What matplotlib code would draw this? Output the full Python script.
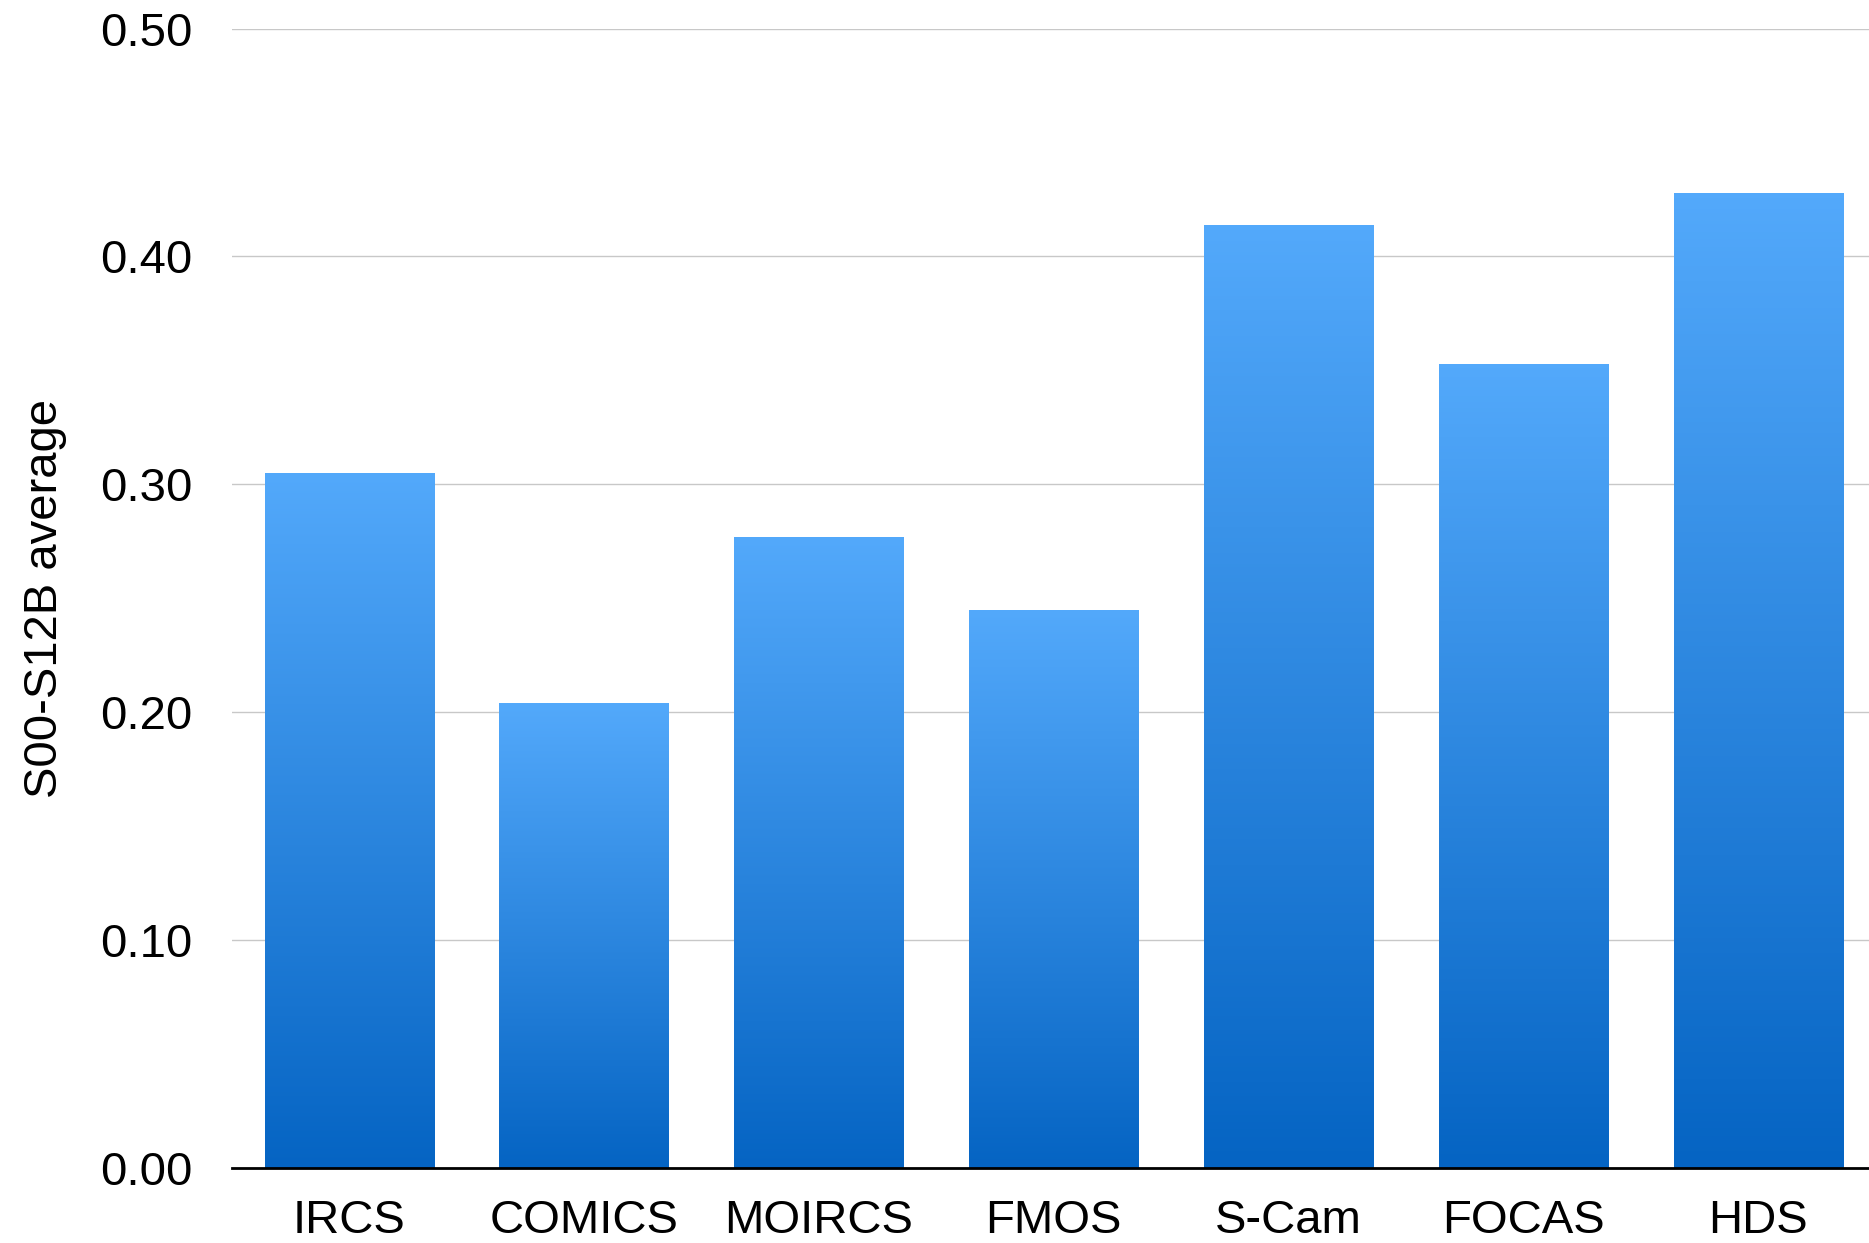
import matplotlib
matplotlib.use("Agg")
import matplotlib.pyplot as plt
import numpy as np
from matplotlib.colors import LinearSegmentedColormap

categories = ["IRCS", "COMICS", "MOIRCS", "FMOS", "S-Cam", "FOCAS", "HDS"]
values = [0.305, 0.204, 0.277, 0.245, 0.414, 0.353, 0.428]
yticks = [0.0, 0.1, 0.2, 0.3, 0.4, 0.5]
ytick_labels = ["0.00", "0.10", "0.20", "0.30", "0.40", "0.50"]
ylabel = "S00-S12B average"

plt.rcParams['font.family'] = ['Liberation Sans', 'DejaVu Sans']

fig = plt.figure(figsize=(18.69, 12.43), dpi=100)
ax = fig.add_axes([0.1240, 0.0603, 0.8795, 0.977 - 0.0603])

x = np.arange(len(categories))
bars = ax.bar(x, values, width=0.72, color='none', edgecolor='none', zorder=2)

cmap = LinearSegmentedColormap.from_list("g", ["#0564C3", "#53A9FB"])
grad = np.linspace(0, 1, 256).reshape(-1, 1)
for b in bars:
    x0 = b.get_x()
    w = b.get_width()
    h = b.get_height()
    im = ax.imshow(grad, cmap=cmap, origin='lower', aspect='auto',
                   extent=[x0, x0 + w, 0, h], zorder=2, interpolation='bilinear')
    im.set_clip_path(b)

ax.set_xlim(-0.5, 6.5)
ax.set_ylim(0, 0.5)
ax.set_yticks(yticks)
ax.set_yticklabels(ytick_labels)
ax.set_xticks(x)
ax.set_xticklabels(categories)

ax.yaxis.grid(True, color='#C8C8C8', linewidth=1.0, zorder=0)
ax.set_axisbelow(True)
for s in ['left', 'right', 'top']:
    ax.spines[s].set_visible(False)
ax.spines['bottom'].set_linewidth(2.0)
ax.spines['bottom'].set_color('black')
ax.spines['bottom'].set_zorder(3)

ax.tick_params(axis='y', length=0, pad=28, labelsize=34)
ax.tick_params(axis='x', length=0, pad=22, labelsize=34)

ax.set_ylabel(ylabel, fontsize=34)
ax.yaxis.set_label_coords(-0.100, 0.5)

fig.savefig("out.png", dpi=100, facecolor='white')
